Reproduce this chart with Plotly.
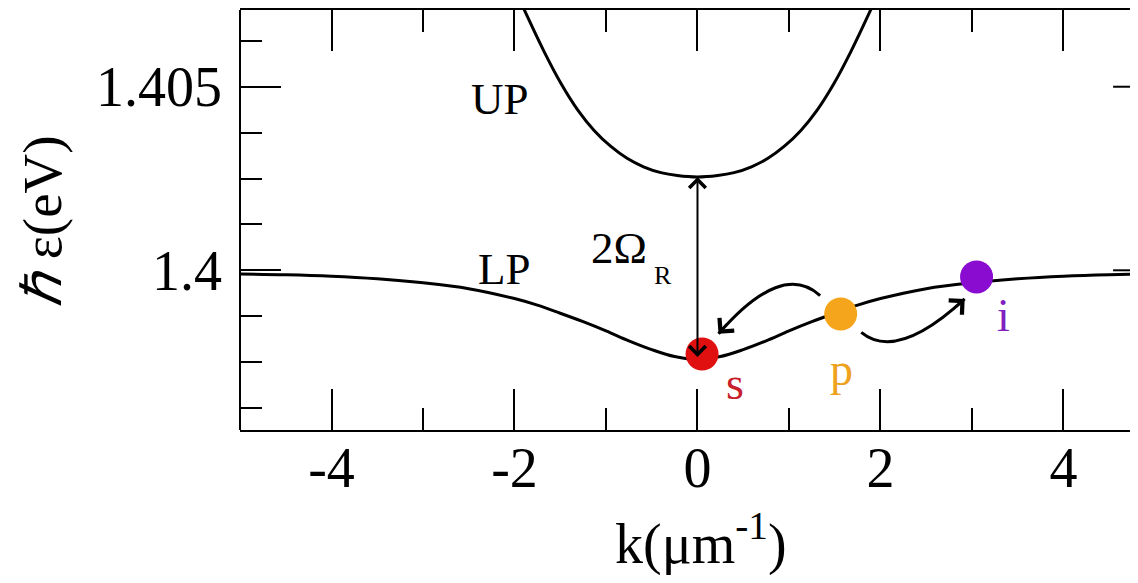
import plotly.graph_objects as go

# ---- data ----
k_lp = [-5.0, -4.5, -4.0, -3.5, -3.0, -2.5, -2.0, -1.75, -1.5, -1.25, -1.0, -0.75, -0.5, -0.25, 0.0,
        0.25, 0.5, 0.75, 1.0, 1.25, 1.5, 1.75, 2.0, 2.5, 3.0, 3.5, 4.0, 4.5, 5.0]
e_lp = [1.39990, 1.39988, 1.39984, 1.39977, 1.39966, 1.39950, 1.39923, 1.39905, 1.39883, 1.39860,
        1.39835, 1.39808, 1.39784, 1.39765, 1.39757,
        1.39765, 1.39784, 1.39808, 1.39835, 1.39860, 1.39883, 1.39905, 1.39923, 1.39950, 1.39966,
        1.39977, 1.39984, 1.39988, 1.39990]

k_up = [-2.05, -1.885, -1.675, -1.49, -1.31, -1.13, -0.95, -0.77, -0.59, -0.40, -0.22, 0.0,
        0.22, 0.40, 0.59, 0.77, 0.95, 1.13, 1.31, 1.49, 1.675, 1.885, 2.05]
e_up = [1.40797, 1.40705, 1.40595, 1.40508, 1.40437, 1.40381, 1.40338, 1.40305, 1.40282, 1.40266,
        1.40258, 1.40254,
        1.40258, 1.40266, 1.40282, 1.40305, 1.40338, 1.40381, 1.40437, 1.40508, 1.40595, 1.40705,
        1.40797]

point_names = ["s", "p", "i"]
point_k = [0.05, 1.565, 3.05]
point_e = [1.39772, 1.39881, 1.39982]
point_colors = ["#e01010", "#f5a51c", "#8a0cd0"]
label_colors = ["#c8202a", "#eea21e", "#8020c0"]
label_k = [0.41, 1.57, 3.34]
label_e = [1.39692, 1.39730, 1.39877]

# Rabi splitting arrow (k, lower E, upper E)
rabi_k = 0.0
rabi_e = [1.39760, 1.40254]

# curved scattering arrows: start, control, end (k, E)
arrow_start = [(1.34, 1.39931), (1.79, 1.39831)]
arrow_ctrl = [(0.92, 1.40026), (2.18, 1.39751)]
arrow_end = [(0.23, 1.39827), (2.92, 1.39922)]

x_range = [-5.0, 4.727]          # the frame is cropped on the right in the reference
y_range = [1.39565, 1.40709]
x_ticks = [-4, -2, 0, 2, 4]
x_ticklabels = ["-4", "-2", "0", "2", "4"]
y_ticks = [1.4, 1.405]
y_ticklabels = ["1.4", "1.405"]

FONT = "Liberation Serif, Times New Roman, serif"

fig = go.Figure()
fig.add_trace(go.Scatter(x=k_up, y=e_up, mode="lines", line=dict(color="black", width=3, shape="spline"),
                         showlegend=False, hoverinfo="skip"))
fig.add_trace(go.Scatter(x=k_lp, y=e_lp, mode="lines", line=dict(color="black", width=3, shape="spline"),
                         showlegend=False, hoverinfo="skip"))

annotations = []
shapes = []

# Rabi arrow
annotations.append(dict(x=rabi_k, y=rabi_e[1], ax=rabi_k, ay=rabi_e[0], xref="x", yref="y",
                        axref="x", ayref="y", text="", showarrow=True, arrowhead=4, startarrowhead=4,
                        arrowside="end+start", arrowsize=1.6, startarrowsize=1.6, arrowwidth=2,
                        arrowcolor="black", standoff=0, startstandoff=0))

# curved arrows
for (s, c, e) in zip(arrow_start, arrow_ctrl, arrow_end):
    shapes.append(dict(type="path", xref="x", yref="y",
                       path=f"M {s[0]},{s[1]} Q {c[0]},{c[1]} {e[0]},{e[1]}",
                       line=dict(color="black", width=3)))
    bx = e[0] - 0.15 * (e[0] - c[0])
    by = e[1] - 0.15 * (e[1] - c[1])
    annotations.append(dict(x=e[0], y=e[1], ax=bx, ay=by, xref="x", yref="y", axref="x", ayref="y",
                            text="", showarrow=True, arrowhead=4, arrowsize=1.5, arrowwidth=2.5,
                            arrowcolor="black", standoff=0))

# points
fig.add_trace(go.Scatter(x=point_k, y=point_e, mode="markers",
                         marker=dict(size=33, color=point_colors, line=dict(width=0)),
                         showlegend=False, hoverinfo="skip"))

for name, lk, le, col in zip(point_names, label_k, label_e, label_colors):
    annotations.append(dict(x=lk, y=le, xref="x", yref="y", text=name, showarrow=False,
                            font=dict(family=FONT, size=46, color=col)))

# branch labels
annotations.append(dict(x=-2.16, y=1.40466, xref="x", yref="y", text="UP", showarrow=False,
                        font=dict(family=FONT, size=45, color="black")))
annotations.append(dict(x=-2.11, y=1.40004, xref="x", yref="y", text="LP", showarrow=False,
                        font=dict(family=FONT, size=45, color="black")))
annotations.append(dict(x=-0.86, y=1.40061, xref="x", yref="y", text="2Ω", showarrow=False,
                        font=dict(family=FONT, size=45, color="black")))
annotations.append(dict(x=-0.38, y=1.39985, xref="x", yref="y", text="R", showarrow=False,
                        font=dict(family=FONT, size=26, color="black")))

# axis titles
annotations.append(dict(x=0.04, y=-0.261, xref="x", yref="paper", xanchor="center", yanchor="middle",
                        text="k(μm<sup>-1</sup>)", showarrow=False,
                        font=dict(family=FONT, size=56, color="black")))
annotations.append(dict(x=-0.2225, y=0.4976, xref="paper", yref="paper", xanchor="center", yanchor="middle",
                        text="<i>ℏ</i> ε(eV)", textangle=-90, showarrow=False,
                        font=dict(family=FONT, size=55, color="black")))

# left frame line; the right side of the frame is cropped, only stubs of its major ticks show
shapes.append(dict(type="line", xref="paper", yref="paper", x0=0, x1=0, y0=0, y1=1,
                   line=dict(color="black", width=2)))
for yt in y_ticks:
    shapes.append(dict(type="line", xref="paper", yref="y", x0=0.981, x1=1.0, y0=yt, y1=yt,
                       line=dict(color="black", width=2)))

fig.update_layout(
    width=1122, height=567,
    margin=dict(l=232, r=0, t=0, b=145),
    paper_bgcolor="white", plot_bgcolor="white",
    annotations=annotations, shapes=shapes,
    font=dict(family=FONT, color="black"),
)
fig.update_xaxes(range=x_range, tickmode="array", tickvals=x_ticks, ticktext=x_ticklabels,
                 ticks="inside", ticklen=41, tickwidth=2,
                 tickcolor="black", showline=True, linewidth=2, linecolor="black", mirror="ticks",
                 showgrid=False, zeroline=False, tickfont=dict(family=FONT, size=56, color="black"),
                 ticklabelstandoff=-12,
                 minor=dict(dtick=1, tick0=0, ticks="inside", ticklen=22, tickwidth=2, tickcolor="black",
                            showgrid=False))
fig.update_yaxes(range=y_range, tickmode="array", tickvals=y_ticks, ticktext=y_ticklabels, ticks="inside",
                 ticklen=41, tickwidth=2, tickcolor="black", showline=False, mirror=False,
                 showgrid=False, zeroline=False, tickfont=dict(family=FONT, size=56, color="black"),
                 ticklabelstandoff=17,
                 minor=dict(dtick=0.00125, tick0=1.4, ticks="inside", ticklen=22, tickwidth=2,
                            tickcolor="black", showgrid=False))

fig.write_html("out.html")
